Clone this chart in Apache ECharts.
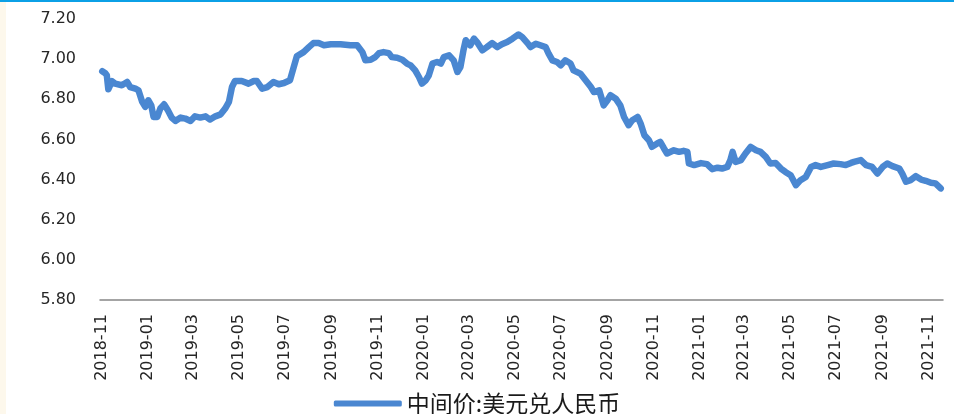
<!DOCTYPE html>
<html>
<head>
<meta charset="utf-8">
<script src="https://cdn.jsdelivr.net/npm/echarts@6/dist/echarts.min.js"></script>
<style>
  html, body { margin: 0; padding: 0; background: #ffffff; }
  #chart { width: 954px; height: 414px; }
</style>
</head>
<body>
<div id="chart"></div>
<script>
// 中间价:美元兑人民币 (USD/CNY central parity)
const dates = ['2018-11-01','2018-11-05','2018-11-07','2018-11-09','2018-11-14','2018-11-18','2018-11-27','2018-12-04','2018-12-08','2018-12-15','2018-12-19','2018-12-24','2018-12-28','2019-01-01','2019-01-05','2019-01-08','2019-01-13','2019-01-17','2019-01-22','2019-01-27','2019-02-01','2019-02-06','2019-02-13','2019-02-19','2019-02-26','2019-03-04','2019-03-11','2019-03-18','2019-03-24','2019-03-31','2019-04-07','2019-04-13','2019-04-18','2019-04-22','2019-04-26','2019-05-05','2019-05-14','2019-05-21','2019-05-25','2019-06-01','2019-06-08','2019-06-16','2019-06-23','2019-06-30','2019-07-08','2019-07-13','2019-07-17','2019-07-26','2019-08-02','2019-08-08','2019-08-15','2019-08-22','2019-08-31','2019-09-13','2019-09-26','2019-10-05','2019-10-12','2019-10-16','2019-10-23','2019-10-29','2019-11-03','2019-11-09','2019-11-16','2019-11-20','2019-11-27','2019-12-04','2019-12-10','2019-12-15','2019-12-21','2019-12-26','2019-12-30','2020-01-04','2020-01-08','2020-01-13','2020-01-19','2020-01-24','2020-01-28','2020-02-04','2020-02-10','2020-02-15','2020-02-19','2020-02-23','2020-02-26','2020-03-03','2020-03-08','2020-03-12','2020-03-19','2020-03-25','2020-04-01','2020-04-08','2020-04-14','2020-04-21','2020-04-28','2020-05-06','2020-05-11','2020-05-18','2020-05-22','2020-05-29','2020-06-04','2020-06-11','2020-06-15','2020-06-20','2020-06-26','2020-07-01','2020-07-07','2020-07-14','2020-07-18','2020-07-27','2020-08-03','2020-08-10','2020-08-14','2020-08-21','2020-08-27','2020-09-01','2020-09-05','2020-09-12','2020-09-18','2020-09-23','2020-09-29','2020-10-04','2020-10-11','2020-10-15','2020-10-20','2020-10-26','2020-10-30','2020-11-06','2020-11-10','2020-11-15','2020-11-19','2020-11-28','2020-12-05','2020-12-11','2020-12-16','2020-12-18','2020-12-25','2021-01-03','2021-01-11','2021-01-18','2021-01-25','2021-01-31','2021-02-07','2021-02-11','2021-02-14','2021-02-18','2021-02-25','2021-03-03','2021-03-10','2021-03-17','2021-03-23','2021-03-30','2021-04-05','2021-04-12','2021-04-19','2021-04-25','2021-05-02','2021-05-09','2021-05-15','2021-05-22','2021-05-29','2021-06-04','2021-06-11','2021-06-20','2021-06-28','2021-07-07','2021-07-14','2021-07-21','2021-07-25','2021-08-03','2021-08-10','2021-08-18','2021-08-25','2021-09-01','2021-09-07','2021-09-14','2021-09-23','2021-09-27','2021-10-02','2021-10-08','2021-10-15','2021-10-22','2021-10-28','2021-11-04','2021-11-10','2021-11-17'];

const rates = [6.940,6.930,6.920,6.850,6.890,6.878,6.870,6.886,6.861,6.853,6.845,6.787,6.762,6.795,6.770,6.712,6.712,6.754,6.775,6.745,6.709,6.692,6.709,6.704,6.692,6.715,6.709,6.715,6.699,6.715,6.725,6.754,6.787,6.861,6.891,6.891,6.878,6.891,6.891,6.853,6.861,6.886,6.875,6.881,6.895,6.961,7.014,7.035,7.060,7.080,7.080,7.069,7.074,7.074,7.069,7.069,7.035,6.994,6.997,7.010,7.030,7.035,7.030,7.010,7.007,6.997,6.978,6.969,6.944,6.911,6.878,6.895,6.919,6.978,6.986,6.978,7.010,7.019,6.994,6.936,6.961,7.044,7.094,7.069,7.102,7.085,7.044,7.060,7.080,7.060,7.074,7.085,7.102,7.123,7.110,7.080,7.060,7.077,7.069,7.060,7.027,6.994,6.986,6.969,6.994,6.978,6.944,6.928,6.895,6.861,6.836,6.845,6.770,6.795,6.820,6.803,6.770,6.712,6.671,6.696,6.712,6.679,6.621,6.596,6.563,6.580,6.588,6.555,6.530,6.546,6.538,6.543,6.538,6.480,6.472,6.482,6.477,6.452,6.459,6.455,6.463,6.497,6.538,6.488,6.497,6.530,6.563,6.546,6.538,6.513,6.480,6.483,6.455,6.438,6.422,6.372,6.397,6.413,6.463,6.472,6.463,6.472,6.480,6.477,6.472,6.483,6.488,6.497,6.472,6.463,6.430,6.463,6.480,6.467,6.455,6.430,6.389,6.397,6.417,6.400,6.394,6.384,6.381,6.356];

// x-axis labels, one every two months
const monthLabels = ['2018-11','2019-01','2019-03','2019-05','2019-07','2019-09','2019-11','2020-01','2020-03','2020-05','2020-07','2020-09','2020-11','2021-01','2021-03','2021-05','2021-07','2021-09','2021-11'];

const seriesName = '中间价:美元兑人民币';
const axisStart = '2018-10-29';
const axisEnd = '2021-11-20';

// dates become millisecond timestamps (UTC) on a numeric x axis
function toTime(s) {
  const p = s.split('-');
  return Date.UTC(+p[0], +p[1] - 1, p[2] ? +p[2] : 1);
}
function pad2(n) { return n < 10 ? '0' + n : '' + n; }

const tickValues = monthLabels.map(toTime);
const lineData = dates.map((d, i) => [toTime(d), rates[i]]);

const chart = echarts.init(document.getElementById('chart'), null, { renderer: 'canvas' });
chart.setOption({
  animation: false,
  backgroundColor: '#ffffff',
  textStyle: { fontFamily: 'DejaVu Sans' },
  graphic: [
    { type: 'rect', left: 0, top: 0, shape: { width: 6, height: 414 }, style: { fill: '#fdf8ec' }, silent: true },
    { type: 'rect', left: 0, top: 0, shape: { width: 954, height: 2 }, style: { fill: '#0ba0e6' }, silent: true }
  ],
  grid: { left: 100, right: 11, top: 19, bottom: 114 },
  legend: {
    data: [{ name: seriesName, icon: 'roundRect' }],
    left: 'center',
    top: 392,
    padding: 0,
    itemWidth: 68,
    itemHeight: 6,
    itemGap: 6,
    textStyle: { fontFamily: 'Noto Sans CJK SC', fontSize: 23, color: '#1a1a1a', padding: [0, 0, 0, 0] }
  },
  xAxis: {
    type: 'value',
    min: toTime(axisStart),
    max: toTime(axisEnd),
    splitLine: { show: false },
    axisLine: { show: true, lineStyle: { color: '#868686', width: 1.5 } },
    axisTick: { show: false, customValues: tickValues },
    axisLabel: {
      customValues: tickValues,
      rotate: 90,
      margin: 14,
      fontSize: 16,
      color: '#262626',
      showMinLabel: true,
      showMaxLabel: true,
      hideOverlap: false,
      formatter: function (v) {
        const d = new Date(v);
        return d.getUTCFullYear() + '-' + pad2(d.getUTCMonth() + 1);
      }
    }
  },
  yAxis: {
    type: 'value',
    min: 5.8,
    max: 7.2,
    interval: 0.2,
    axisLine: { show: false },
    axisTick: { show: false },
    splitLine: { show: false },
    axisLabel: {
      margin: 24,
      fontSize: 16,
      color: '#262626',
      formatter: function (v) { return v.toFixed(2); }
    }
  },
  series: [{
    name: seriesName,
    type: 'line',
    data: lineData,
    showSymbol: false,
    symbol: 'none',
    color: '#4a87d1',
    lineStyle: { width: 6.5, color: '#4a87d1', cap: 'round', join: 'round' }
  }]
});
</script>
</body>
</html>
